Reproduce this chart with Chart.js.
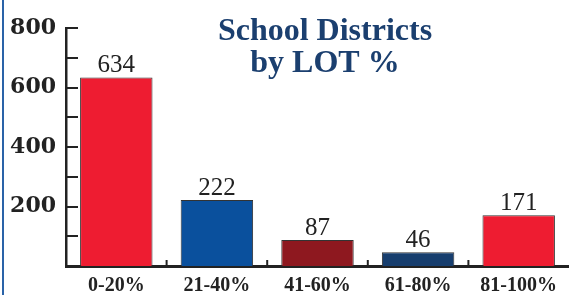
<!DOCTYPE html>
<html>
<head>
<meta charset="utf-8">
<script src="https://cdn.jsdelivr.net/npm/chart.js@4"></script>
<style>
  html, body { margin: 0; padding: 0; background: #fff; }
  #wrap { position: relative; width: 569px; height: 295px; }
  #edge { position: absolute; left: 2px; top: 0; width: 2px; height: 295px; background: #2a63a8; }
</style>
</head>
<body>
<div id="wrap">
  <canvas id="chart" width="569" height="295"></canvas>
  <div id="edge"></div>
</div>
<script>
// データ
var categories = ['0-20%', '21-40%', '41-60%', '61-80%', '81-100%'];
var districts = [634, 222, 87, 46, 171];
var barColors = ['#ee1c31', '#0a509d', '#8e181f', '#173e6e', '#ee1c31'];
var yTicks = [0, 200, 400, 600, 800];
var titleLines = ['School Districts', 'by LOT %'];

// 軸の内側に目盛り線を描く
var tickPlugin = {
  id: 'innerTicks',
  afterDraw: function(chart) {
    var ctx = chart.ctx;
    var y = chart.scales.y;
    var x = chart.scales.x;
    var area = chart.chartArea;
    ctx.save();
    ctx.strokeStyle = '#222';
    ctx.lineWidth = 2;
    for (var v = 100; v <= 800; v += 100) {
      var py = Math.round(y.getPixelForValue(v));
      ctx.beginPath();
      ctx.moveTo(area.left, py);
      ctx.lineTo(area.left + 12, py);
      ctx.stroke();
    }
    // カテゴリ間の小さい目盛り
    for (var i = 0; i < categories.length - 1; i++) {
      var px = (x.getPixelForValue(i) + x.getPixelForValue(i + 1)) / 2;
      ctx.beginPath();
      ctx.moveTo(px, area.bottom);
      ctx.lineTo(px, area.bottom - 6);
      ctx.stroke();
    }
    ctx.restore();
  }
};

// 棒の上の数値
var valuePlugin = {
  id: 'values',
  afterDatasetsDraw: function(chart) {
    var ctx = chart.ctx;
    var meta = chart.getDatasetMeta(0);
    ctx.save();
    ctx.font = '25px "Liberation Serif"';
    ctx.fillStyle = '#222';
    ctx.textAlign = 'center';
    ctx.textBaseline = 'alphabetic';
    meta.data.forEach(function(bar, i) {
      ctx.fillText(districts[i], bar.x, bar.y - 5);
    });
    ctx.restore();
  }
};

// タイトル
var titlePlugin = {
  id: 'innerTitle',
  afterDraw: function(chart) {
    var ctx = chart.ctx;
    ctx.save();
    ctx.font = 'bold 32px "Liberation Serif"';
    ctx.fillStyle = '#1b3f6f';
    ctx.textAlign = 'center';
    ctx.fillText(titleLines[0], 325, 40);
    ctx.fillText(titleLines[1], 325, 72);
    ctx.restore();
  }
};

var ctx = document.getElementById('chart').getContext('2d');
var myChart = new Chart(ctx, {
  type: 'bar',
  data: {
    labels: categories,
    datasets: [{
      data: districts,
      backgroundColor: barColors,
      borderColor: '#333',
      borderWidth: 1,
      borderSkipped: 'bottom',
      barPercentage: 0.72,
      categoryPercentage: 1.0
    }]
  },
  options: {
    responsive: false,
    animation: false,
    layout: { padding: { top: 28, right: 0, bottom: 0, left: 0 } },
    plugins: { legend: { display: false }, tooltip: { enabled: false }, title: { display: false } },
    scales: {
      x: {
        grid: { display: false, drawTicks: false },
        border: { display: true, color: '#222', width: 3 },
        ticks: {
          color: '#222',
          padding: 8,
          font: { family: 'Liberation Serif', weight: 'bold', size: 20 }
        },
        afterFit: function(scale) { scale.height = 29; }
      },
      y: {
        min: 0,
        max: 800,
        afterBuildTicks: function(scale) {
          scale.ticks = yTicks.map(function(v) { return { value: v }; });
        },
        grid: { display: false, drawTicks: false },
        border: { display: true, color: '#222', width: 2.5 },
        ticks: {
          color: '#222',
          padding: 10,
          callback: function(v) { return v === 0 ? '' : v; },
          font: { family: 'DejaVu Serif', weight: 'bold', size: 22 }
        },
        afterFit: function(scale) { scale.width = 66; }
      }
    }
  },
  plugins: [tickPlugin, valuePlugin, titlePlugin]
});
</script>
</body>
</html>
